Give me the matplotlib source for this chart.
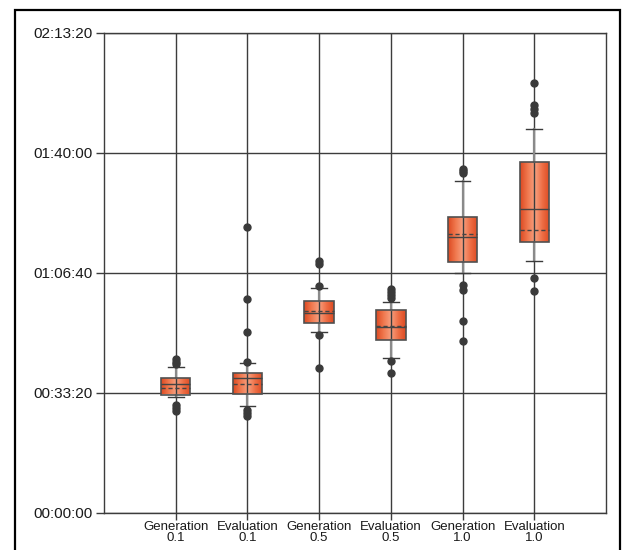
import numpy as np
import matplotlib.pyplot as plt
from matplotlib.ticker import FuncFormatter
from matplotlib.colors import LinearSegmentedColormap
from matplotlib.patches import Rectangle

#----------------------------------------
# box statistics in seconds
labels = ["Generation\n0.1", "Evaluation\n0.1", "Generation\n0.5",
          "Evaluation\n0.5", "Generation\n1.0", "Evaluation\n1.0"]
q1 = [1975, 1983, 3167, 2883, 4183, 4517]
q3 = [2250, 2333, 3533, 3383, 4933, 5850]
med = [2150, 2250, 3333, 3108, 4600, 5067]
mean = [2083, 2150, 3367, 3117, 4642, 4717]
whislo = [1933, 1783, 3017, 2583, 4000, 4200]
whishi = [2433, 2500, 3750, 3517, 5533, 6400]
fliers = [
    [2567, 2517, 2483, 1800, 1750, 1700],
    [4767, 3567, 3017, 2517, 1717, 1667, 1617],
    [4200, 4150, 3783, 2967, 2417],
    [3733, 3683, 3633, 3583, 2533, 2333],
    [5733, 5700, 5667, 3800, 3717, 3200, 2867],
    [7167, 6800, 6733, 6667, 3917, 3700],
]
yticks = [0, 2000, 4000, 6000, 8000]
#----------------------------------------

def hms(v, pos=None):
    v = int(round(v))
    return "%02d:%02d:%02d" % (v // 3600, (v % 3600) // 60, v % 60)

stats = []
for i in range(len(labels)):
    stats.append(dict(med=med[i], mean=mean[i], q1=q1[i], q3=q3[i],
                      whislo=whislo[i], whishi=whishi[i], fliers=fliers[i]))

fig = plt.figure(figsize=(6.23, 5.5), dpi=100)
ax = fig.add_axes([104 / 623, 1 - 513 / 550, 502 / 623, 480 / 550])

pos = np.arange(1, len(labels) + 1)
width = 0.41
dark = "#3c3c3c"

# grid lines
for y in yticks:
    ax.axhline(y, color=dark, lw=1, zorder=1)
for p in pos:
    ax.axvline(p, color=dark, lw=1, zorder=3)

bp = ax.bxp(stats, positions=pos, widths=width, patch_artist=True,
            showmeans=True, meanline=True, capwidths=0.22,
            boxprops=dict(facecolor="none", edgecolor="#505050", lw=1.2, zorder=4),
            medianprops=dict(color="#444444", lw=1, zorder=5),
            meanprops=dict(color="#444444", lw=1, linestyle=(0, (3, 2)), zorder=5),
            whiskerprops=dict(color="#8a8a8a", lw=1.6, zorder=3.5),
            capprops=dict(color="#3a3a3a", lw=1, zorder=4),
            flierprops=dict(marker="o", markersize=5, markerfacecolor="#3a3a3a",
                            markeredgecolor="#3a3a3a", zorder=6))

# orange gradient fill
cmap = LinearSegmentedColormap.from_list(
    "box", ["#dc4a22", "#f0784e", "#f7a080", "#ee6e45", "#dc4a22"])
grad = np.linspace(0, 1, 64).reshape(1, -1)
for i, patch in enumerate(bp["boxes"]):
    im = ax.imshow(grad, cmap=cmap, aspect="auto", zorder=2,
                   extent=[pos[i] - width / 2, pos[i] + width / 2, q1[i], q3[i]])
    im.set_clip_path(patch)

ax.set_xlim(0, 7)
ax.set_ylim(0, 8000)
ax.set_yticks(yticks)
ax.yaxis.set_major_formatter(FuncFormatter(hms))
ax.set_xticks(pos)
ax.set_xticklabels(labels, fontsize=9.5, family="Liberation Sans", linespacing=0.9)
for t in ax.get_yticklabels():
    t.set_fontsize(11)
    t.set_family("Liberation Sans")
ax.tick_params(length=6, width=1, color=dark, labelcolor="#1a1a1a", pad=2)
ax.tick_params(axis="x", length=5, pad=1)
for s in ax.spines.values():
    s.set_color(dark)
    s.set_linewidth(1)

# outer frame
fig.patches.append(Rectangle((15 / 623, -0.1), 605 / 623, 1.1 - 10 / 550,
                             transform=fig.transFigure, fill=False,
                             edgecolor="black", lw=1.6))

fig.savefig("out.png", dpi=100)
